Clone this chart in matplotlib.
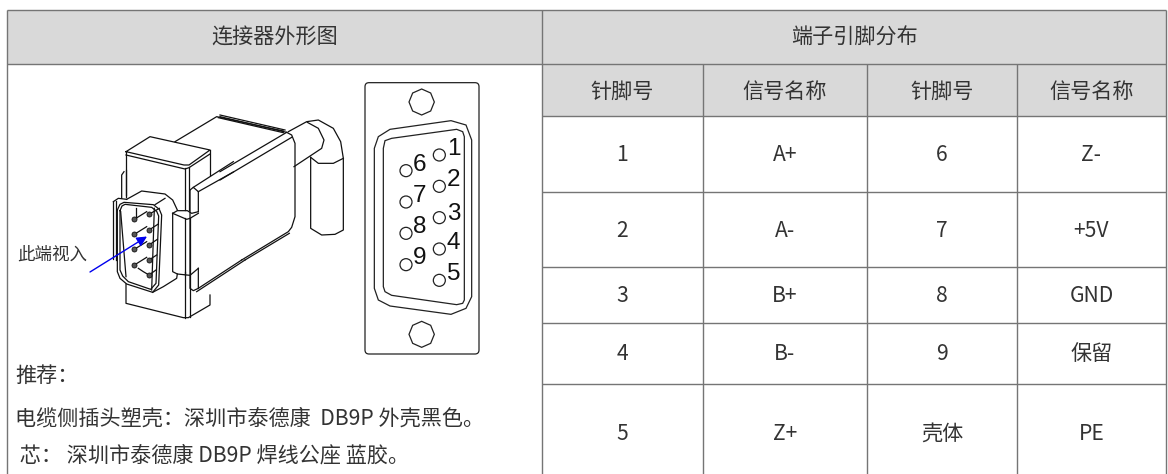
import matplotlib
matplotlib.use("Agg")
import matplotlib.pyplot as plt
from matplotlib.patches import Rectangle, Polygon, Circle, FancyBboxPatch, FancyArrowPatch
from matplotlib.transforms import Affine2D

plt.rcParams['font.family'] = ['Noto Sans CJK SC', 'DejaVu Sans']

# table content
left_header = "连接器外形图"
right_header = "端子引脚分布"
col_headers = ["针脚号", "信号名称", "针脚号", "信号名称"]
pins_a = ["1", "2", "3", "4", "5"]
names_a = ["A+", "A-", "B+", "B-", "Z+"]
pins_b = ["6", "7", "8", "9", "壳体"]
names_b = ["Z-", "+5V", "GND", "保留", "PE"]
notes = ["推荐：", "电缆侧插头塑壳：深圳市泰德康  DB9P 外壳黑色。", " 芯： 深圳市泰德康 DB9P 焊线公座 蓝胶。"]
arrow_label = "此端视入"
pin_numbers = ["1", "2", "3", "4", "5", "6", "7", "8", "9"]

# grid geometry (pixels); the last row runs past the bottom edge of the picture
col_x = [7, 542, 703, 867, 1017, 1166]
row_y = [10, 64, 116, 192, 267, 323, 384, 482]

W, H = 1168, 474
fig = plt.figure(figsize=(W / 100, H / 100), dpi=100)
ax = fig.add_axes([0, 0, 1, 1])
ax.set_xlim(0, W)
ax.set_ylim(H, 0)
ax.axis("off")

GRID = "#757575"
TXT = "#333333"
FS = 15.2

ax.add_patch(Rectangle((col_x[0], row_y[0]), col_x[5] - col_x[0], row_y[1] - row_y[0], fc="#d9d9d9", ec="none"))
ax.add_patch(Rectangle((col_x[1], row_y[1]), col_x[5] - col_x[1], row_y[2] - row_y[1], fc="#d9d9d9", ec="none"))

def hl(y, a, b):
    ax.plot([a, b], [y, y], color=GRID, lw=1.0, solid_capstyle="butt")

def vl(x, a, b):
    ax.plot([x, x], [a, b], color=GRID, lw=1.0, solid_capstyle="butt")

hl(row_y[0], col_x[0], col_x[5])
hl(row_y[1], col_x[0], col_x[5])
for y in row_y[2:7]:
    hl(y, col_x[1], col_x[5])
vl(col_x[0], row_y[0], H)
vl(col_x[1], row_y[0], H)
vl(col_x[5], row_y[0], H)
for x in col_x[2:5]:
    vl(x, row_y[1], H)

def centre(x, y, s, size=FS):
    ax.text(x, y, s, ha="center", va="center", fontsize=size, color=TXT)

centre((col_x[0] + col_x[1]) / 2, (row_y[0] + row_y[1]) / 2 + 1, left_header)
centre((col_x[1] + col_x[5]) / 2, (row_y[0] + row_y[1]) / 2 + 1, right_header)
for i, s in enumerate(col_headers):
    centre((col_x[i + 1] + col_x[i + 2]) / 2, (row_y[1] + row_y[2]) / 2 + 2, s)
for c, values in enumerate([pins_a, names_a, pins_b, names_b]):
    for r, s in enumerate(values):
        centre((col_x[c + 1] + col_x[c + 2]) / 2, (row_y[r + 2] + row_y[r + 3]) / 2 + 1, s)

for s, y in zip(notes, [376, 419, 456]):
    ax.text(15, y, s, ha="left", va="center", fontsize=FS, color=TXT)
ax.text(17, 255, arrow_label, ha="left", va="center", fontsize=12.6, color="#333333")

LINK = "#111111"

def frame(x0, y0, sx=3.0, sy=3.0):
    return Affine2D().scale(1 / sx, 1 / sy).translate(x0, y0) + ax.transData

def draw(lines, tr):
    for pts in lines:
        xs, ys = zip(*pts)
        ax.plot(xs, ys, color=LINK, lw=0.9, transform=tr, solid_joinstyle="round", clip_on=False)

# ---- upper block (crop at 0,70)
block_lines = [
    [(378,245),(450,200),(630,240),(567,285),(552,285),(378,245)],
    [(378,255),(555,297),(567,293),(630,252)],
    [(630,240),(630,315)],[(378,245),(378,375)],
    [(555,295),(555,420)],[(567,290),(567,420)],
    [(525,215),(650,140),(850,183)],[(655,143),(850,188)],
]
draw(block_lines, frame(0, 70))

# ---- front of the plug (crop at 100,170)
front_lines = [
    [(52,120),(60,103),(72,97),(160,104),(178,118),(185,135),(176,345),(158,367),(80,342),(60,325),(52,305),(52,120)],
    [(60,122),(66,108),(75,103),(155,112),(170,124),(176,138),(168,340),(152,358),(85,335),(68,318),(60,300),(60,122)],
    [(40,95),(40,268)],[(47,92),(47,270)],[(40,95),(55,85),(80,88)],
    [(65,85),(65,15),(72,5)],[(78,80),(78,0)],
    [(80,88),(125,63),(195,72),(218,90),(232,120)],
    [(165,104),(195,85)],
    [(218,130),(232,122),(262,122),(275,130),(295,125)],[(218,130),(260,148),(270,145),(295,130)],
    [(218,130),(218,305),(232,312),(270,316),(295,295)],
    [(232,312),(230,325),(190,350),(158,367)],
    [(78,342),(78,400),(250,443),(265,443),(330,405),(330,375)],
    [(255,145),(255,445)],[(270,145),(270,440)],[(255,316),(255,305)],
    [(270,60),(270,355),(280,362),(295,355),(295,295)],
    [(270,60),(280,52),(295,65),(295,125)],
    [(280,52),(400,-25)],[(295,65),(400,6)],[(295,355),(425,270)],[(290,365),(435,270)],
    [(107,115),(107,145)],[(103,148),(140,125)],[(147,133),(178,115)],
    [(103,193),(140,170)],[(147,180),(175,162)],[(103,238),(140,215)],[(147,225),(172,208)],
    [(103,285),(140,262)],[(147,270),(170,255)],[(147,315),(168,300)],
    [(62,125),(78,320)],[(115,295),(130,305),(147,315)],[(163,115),(155,360)],
]
draw(front_lines, frame(100, 170))
pin_centres = [(103,148),(147,133),(103,193),(147,180),(103,238),(147,225),(103,285),(147,270),(147,315)]
for px, py in pin_centres:
    ax.plot([px], [py], "o", ms=3.6, mfc="#555555", mec="#111111", mew=0.6, transform=frame(100, 170))

# ---- body end and cable elbow (crop at 220,100)
cable_lines = [
    [(0,45),(195,90)],[(0,50),(200,97),(215,105),(225,130),(225,350),(215,382),(205,395),(65,480)],
    [(208,400),(75,480)],[(0,215),(200,97)],[(0,240),(215,112)],
    [(205,95),(260,65),(295,60),(340,85),(362,125),(370,175),(370,390),(345,403),(305,405),(272,385),(272,172)],
    [(262,67),(295,85),(312,120),(305,145),(222,200)],
    [(272,172),(295,190),(340,190),(370,175)],
]
draw(cable_lines, frame(220, 100))

# arrow
ax.add_patch(FancyArrowPatch((90, 272), (147, 236.5), arrowstyle="-|>", mutation_scale=15,
                             color="#0000ee", lw=1.0, shrinkA=0, shrinkB=0, zorder=5))

# ---- front view of the D-sub plate
plate = frame(340, 70)
ax.add_patch(FancyBboxPatch((75, 38), 342, 814, boxstyle="round,pad=0,rounding_size=12", fc="none", ec="#222222", lw=0.9, transform=plate))
for cy in (96, 793):
    ax.add_patch(Polygon([(245, cy - 39), (272, cy - 27), (283, cy), (272, cy + 27), (245, cy + 39), (218, cy + 27), (207, cy), (218, cy - 27)],
                         closed=True, fc="none", ec="#222222", lw=0.9, transform=plate))
outer = [(103,235),(115,200),(150,178),(333,152),(378,165),(395,210),(395,680),(378,715),(333,733),(150,708),(115,690),(103,655)]
inner = [(130,235),(135,212),(155,205),(350,178),(368,185),(373,200),(373,690),(368,700),(350,704),(155,676),(135,665),(130,650)]
for shape in (outer, inner):
    ax.add_patch(Polygon(shape, closed=True, fc="none", ec="#222222", lw=0.9, transform=plate))
holes = [(298,255),(298,349),(298,443),(298,537),(298,631),(198,302),(198,396),(198,490),(198,584)]
labels_xy = [(341,238),(341,330),(341,433),(341,520),(341,612),(238,285),(238,378),(238,472),(238,563)]
for (hx, hy), (lx, ly), s in zip(holes, labels_xy, pin_numbers):
    ax.add_patch(Circle((hx, hy), 18, fc="none", ec="#222222", lw=0.9, transform=plate))
    ax.text(lx, ly, s, ha="center", va="center", fontsize=17.5, color="#111111",
            family="Liberation Sans", transform=plate)

fig.savefig("out.png", dpi=100)
